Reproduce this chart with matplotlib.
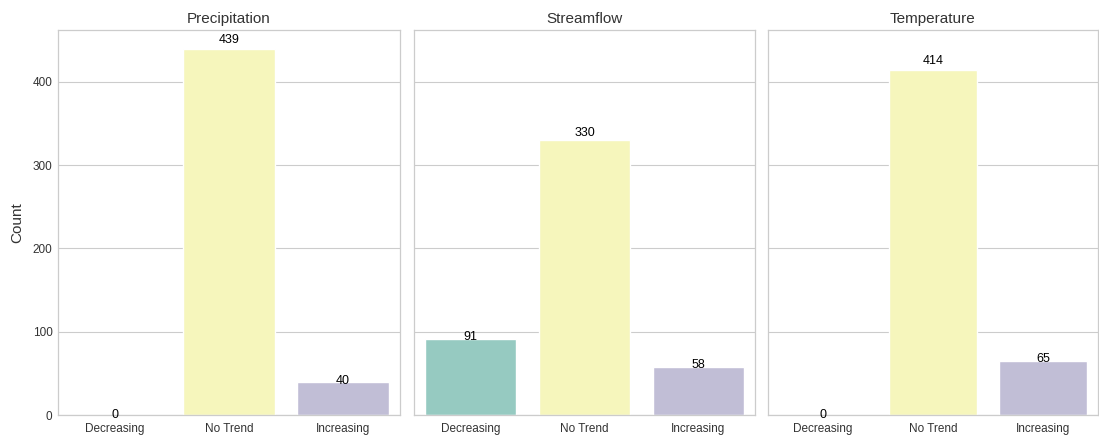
import matplotlib
matplotlib.use("Agg")
import matplotlib.pyplot as plt
import seaborn as sns

sns.set_theme(style="whitegrid")
plt.rcParams['font.family'] = ['Liberation Sans', 'DejaVu Sans']

categories = ["Decreasing", "No Trend", "Increasing"]
variables = ["Precipitation", "Streamflow", "Temperature"]
precip_counts = [0, 439, 40]
stream_counts = [91, 330, 58]
temp_counts = [0, 414, 65]

fig = plt.figure(figsize=(10.99, 4.36), dpi=100)
W, H = 1099, 436
edges = [(58, 400), (414, 755), (768, 1098)]
top, bottom = 30, 415

axes = []
for i, (l, r) in enumerate(edges):
    rect = [l / W, 1 - bottom / H, (r - l) / W, (bottom - top) / H]
    ax = fig.add_axes(rect, sharey=axes[0] if axes else None)
    axes.append(ax)

for ax, name, counts in zip(axes, variables, [precip_counts, stream_counts, temp_counts]):
    sns.barplot(x=categories, y=counts, hue=categories, palette="Set3",
                legend=False, ax=ax)
    ax.set_title(name, fontsize=11, color="#333333", pad=5)
    ax.set_xlabel("")
    for p, v in zip(ax.patches, counts):
        ax.text(p.get_x() + p.get_width() / 2, v * 1.025, str(v),
                ha="center", va="center", fontsize=9, color="black")
    ax.tick_params(axis="x", labelsize=8.5, pad=5.5, length=0, colors="#333333")
    ax.tick_params(axis="y", labelsize=8.5, pad=4, length=0, colors="#333333")
    ax.grid(axis="y", linewidth=0.8, color="#cccccc")
    for s in ax.spines.values():
        s.set_color("#cccccc")
        s.set_linewidth(0.9)

axes[0].set_ylim(0, 462)
axes[0].set_yticks([0, 100, 200, 300, 400])
axes[0].set_ylabel("Count", fontsize=11, color="#333333", labelpad=6)
for ax in axes[1:]:
    ax.set_ylabel("")
    ax.tick_params(axis="y", labelleft=False)

fig.savefig("out.png", dpi=100)
